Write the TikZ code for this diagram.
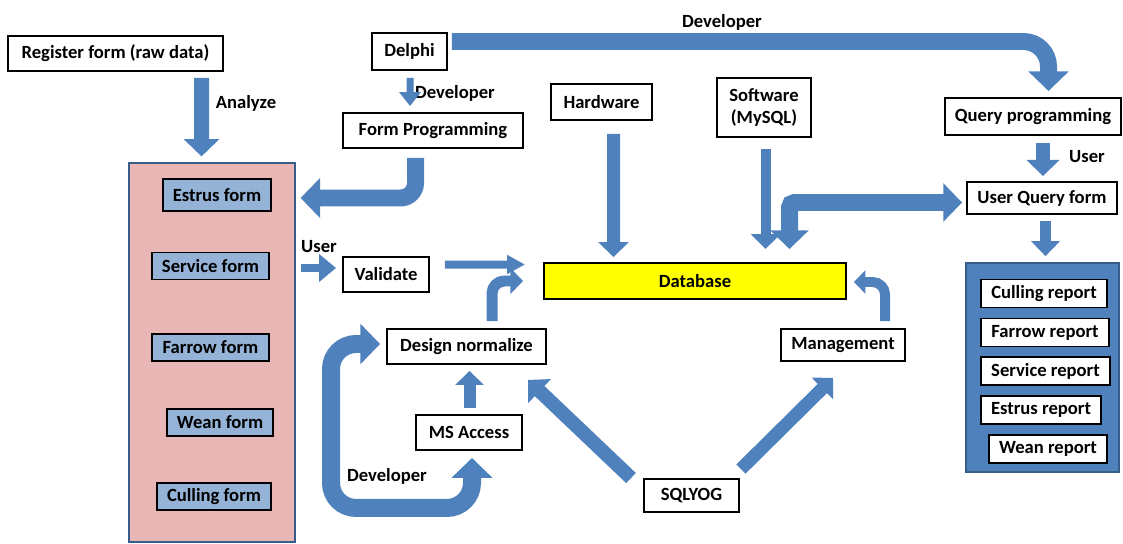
\documentclass[tikz,border=0pt]{standalone}
\usepackage{fontspec}
\setmainfont{Carlito}
\usepackage{tikz}
\usetikzlibrary{arrows.meta, positioning, calc}
\definecolor{flowblue}{HTML}{4F81BD}
\definecolor{edgeblue}{HTML}{385D8A}
\definecolor{formblue}{HTML}{95B3D7}
\definecolor{rawpink}{HTML}{E8B7B5}
\definecolor{dbyellow}{HTML}{FFFF00}
\newcommand{\flowfont}{\fontsize{10.6}{12.5}\selectfont\bfseries}
\tikzset{
  fat/.style={draw=flowblue, line width=0.3cm, -{Triangle[length=0pt 1.15 0, width=0pt 2.3 0]}},
  fatboth/.style={draw=flowblue, line width=0.34cm, {Triangle[length=0pt 1.1 0, width=0pt 2.2 0]}-{Triangle[length=0pt 1.1 0, width=0pt 2.2 0]}},
  box/.style={rectangle, draw=black, line width=1.1pt, fill=white, inner sep=1pt, font=\flowfont, align=center},
  formbox/.style={box, fill=formblue},
  lbl/.style={font=\flowfont, inner sep=1pt},
}

\begin{document}
\begin{tikzpicture}[x=0.02cm, y=-0.02cm]
  \useasboundingbox (0,0) rectangle (1123,544);
  % frames
  \node[draw=edgeblue, line width=0.7pt, fill=rawpink, minimum width=3.32cm, minimum height=7.58cm] (forms) at (212,352.5) {};
  \node[draw=edgeblue, line width=1pt, fill=flowblue, minimum width=3.06cm, minimum height=4.18cm] (reports) at (1042.5,367.5) {};
  % boxes
  \node[box, minimum width=4.3cm, minimum height=0.7cm] (reg) at (115.5,53.5) {Register form (raw data)};
  \node[box, minimum width=1.5cm, minimum height=0.74cm] (delphi) at (409.5,51.5) {Delphi};
  \node[box, minimum width=3.6cm, minimum height=0.7cm] (formprog) at (433,130.5) {Form Programming};
  \node[box, minimum width=2.02cm, minimum height=0.72cm] (hardware) at (601.5,102) {Hardware};
  \node[box, minimum width=1.88cm, minimum height=1.18cm] (software) at (764,107.5) {Software\\(MySQL)};
  \node[box, minimum width=3.52cm, minimum height=0.74cm] (queryprog) at (1033,116.5) {Query programming};
  \node[box, minimum width=3.0cm, minimum height=0.64cm] (userquery) at (1042,198) {User Query form};
  \node[box, minimum width=1.72cm, minimum height=0.7cm] (validate) at (386,274.5) {Validate};
  \node[box, fill=dbyellow, minimum width=6.04cm, minimum height=0.72cm] (database) at (695,281) {Database};
  \node[box, minimum width=3.18cm, minimum height=0.7cm] (designnorm) at (466.5,346.5) {Design normalize};
  \node[box, minimum width=2.48cm, minimum height=0.64cm] (management) at (843,345) {Management};
  \node[box, minimum width=2.12cm, minimum height=0.7cm] (msaccess) at (469,432.5) {MS Access};
  \node[box, minimum width=1.9cm, minimum height=0.66cm] (sqlyog) at (691.5,495.5) {SQLYOG};
  % forms
  \node[formbox, minimum width=2.16cm, minimum height=0.64cm] (estrus) at (217,195) {Estrus form};
  \node[formbox, minimum width=2.34cm, minimum height=0.54cm] (service) at (210.5,266) {Service form};
  \node[formbox, minimum width=2.34cm, minimum height=0.54cm] (farrow) at (210.5,347.5) {Farrow form};
  \node[formbox, minimum width=2.12cm, minimum height=0.54cm] (wean) at (220,422.5) {Wean form};
  \node[formbox, minimum width=2.28cm, minimum height=0.54cm] (culling) at (214,496.5) {Culling form};
  % reports
  \node[box, minimum width=2.52cm, minimum height=0.56cm] (cullrep) at (1044,293.5) {Culling report};
  \node[box, minimum width=2.56cm, minimum height=0.56cm] (farrowrep) at (1045,332.5) {Farrow report};
  \node[box, minimum width=2.58cm, minimum height=0.56cm] (servicerep) at (1045.5,371) {Service report};
  \node[box, minimum width=2.4cm, minimum height=0.56cm] (estrusrep) at (1041,410) {Estrus report};
  \node[box, minimum width=2.36cm, minimum height=0.56cm] (weanrep) at (1048,449) {Wean report};
  % labels
  \node[lbl] (devtop) at (722,22) {Developer};
  \node[lbl] (analyze) at (246,103) {Analyze};
  \node[lbl] (devdelphi) at (455,93) {Developer};
  \node[lbl] (userform) at (319,247) {User};
  \node[lbl] (userquerylbl) at (1087,157) {User};
  \node[lbl] (devaccess) at (387,476) {Developer};
  % arrows
  \draw[fat, line width=0.34cm, rounded corners=0.5cm] ($(delphi.east)+(4,-10)$) -| ($(queryprog.north)+(15.5,-6)$);
  \draw[fat] ($(reg.south)+(86,6)$) -- ($(forms.north)+(-10.5,-6)$);
  \draw[fat, line width=0.14cm, -{Triangle[length=0.28cm, width=0.42cm]}] ($(delphi.south)+(0.5,7)$) -- ($(formprog.north)+(-23,-6)$);
  \draw[fat, line width=0.34cm, rounded corners=0.3cm] ($(formprog.south)+(-17.5,9)$) |- ($(forms.east |- estrus)+(5,3)$);
  \draw[fat, line width=0.18cm, -{Triangle[length=0.34cm, width=0.54cm]}] ($(forms.east |- service)+(5,2)$) -- ($(validate.west)+(-6,-6.5)$);
  \draw[fat, line width=0.16cm, -{Triangle[length=0.36cm, width=0.36cm]}] ($(validate.east)+(15,-10)$) -- ($(database.west)+(-18,-16.5)$);
  \draw[fat, line width=0.26cm] ($(hardware.south)+(12,13)$) -- ($(database.north)+(-81.5,-5)$);
  \draw[fat, line width=0.2cm, -{Triangle[length=0.3cm, width=0.58cm]}] ($(software.south)+(1.5,11)$) -- ($(database.north)+(70.5,-13)$);
  \draw[fatboth, rounded corners=0.1cm] ($(database.north)+(94.5,-13)$) |- ($(userquery.west)+(-4,4.5)$);
  \draw[fat, line width=0.28cm] ($(queryprog.south)+(10,7)$) -- ($(userquery.north)+(1,-5)$);
  \draw[fat, line width=0.22cm, -{Triangle[length=0.3cm, width=0.56cm]}] ($(userquery.south)+(3.5,6)$) -- ($(reports.north)+(3,-6)$);
  \draw[fat, line width=0.22cm, rounded corners=0.25cm] ($(designnorm.north)+(25.5,-7)$) |- ($(database.west)+(-20,0)$);
  \draw[fat, line width=0.2cm, rounded corners=0.25cm] ($(management.north)+(42,-7)$) |- ($(database.east)+(7,1)$);
  \draw[fat, line width=0.24cm] ($(msaccess.north)+(0.5,-6)$) -- ($(designnorm.south)+(3,6)$);
  \draw[fatboth, line width=0.36cm, rounded corners=0.5cm] ($(designnorm.west)+(-6,-2.5)$) -| ($(msaccess.south)+(-138,57)$) -| ($(msaccess.south)+(3,7)$);
  \draw[fat, line width=0.28cm] ($(sqlyog.north)+(-60.5,0)$) -- ($(designnorm.south east)+(-19,15)$);
  \draw[fat, line width=0.26cm] ($(sqlyog.north east)+(1,-9)$) -- ($(management.south)+(-10,16)$);
\end{tikzpicture}
\end{document}
